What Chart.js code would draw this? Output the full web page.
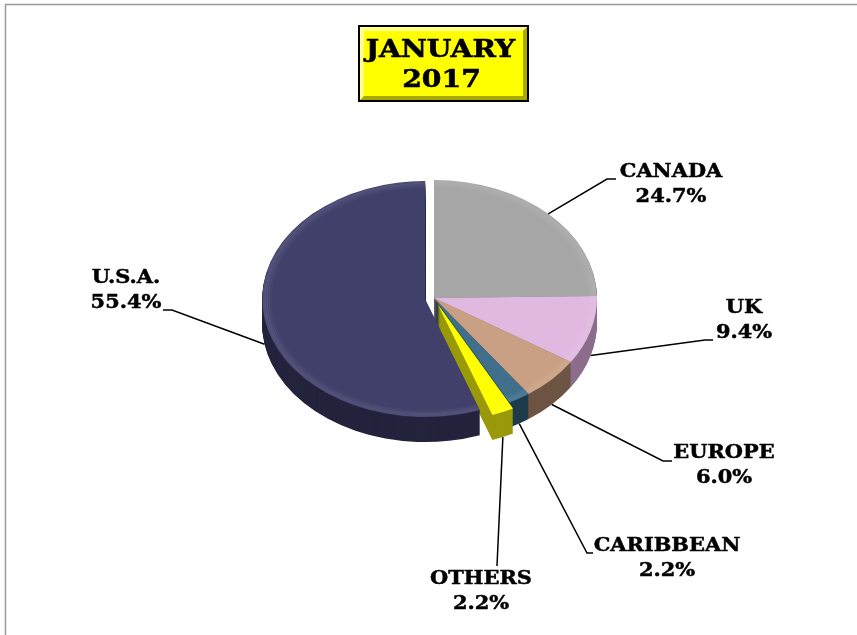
<!DOCTYPE html>
<html lang="en">

<head>
    <meta charset="UTF-8">
    <title>January 2017</title>
    <script src="https://cdn.jsdelivr.net/npm/chart.js"></script>

    <style>
        body {
            margin: 0;
            background-color: #FFFFFF;
        }

        .div-grafico {
            position: relative;
            width: 857px;
            height: 635px;
        }
    </style>
</head>

<body>
    <div class="div-grafico">
        <canvas id="graficoPizza"></canvas>
    </div>

<script>
    // data
    var regioes = ['CANADA', 'UK', 'EUROPE', 'CARIBBEAN', 'OTHERS', 'U.S.A.'];
    var percentuais = [24.7, 9.4, 6.0, 2.2, 2.2, 55.4];
    var tituloLinhas = ['JANUARY', '2017'];

    // styles
    var corTopo = ['#A6A6A6', '#E0B9E0', '#C9A084', '#3F6F8B', '#FFFF00', '#41406B'];
    var corLado = ['#6B6B6B', '#8C6E8C', '#6E5443', '#1E3C4B', '#99990A', '#24233D'];
    var destaque = [0, 0, 0, 0, 9, 9];   // px que a fatia sai do centro

    var inclinacao = 0.724;  // altura / largura da elipse
    var profundidade = 25;   // espessura da pizza em px

    // onde ficam os rotulos: centro do texto, cotovelo da linha, rabicho horizontal
    var posRotulos = [
        { x: 671, y: 172, cx: 607, cy: 179, rabo: 9 },
        { x: 744, y: 308, cx: 705, cy: 340, rabo: 8 },
        { x: 724, y: 453, cx: 663, cy: 461, rabo: 9 },
        { x: 667, y: 546, cx: 587, cy: 553, rabo: 6 },
        { x: 481, y: 579, cx: 497, cy: 566, rabo: 0 },
        { x: 126, y: 278, cx: 172, cy: 310, rabo: -9 }
    ];

    var fonteRotulo = 'bold 19px "DejaVu Serif"';
    var fonteTitulo = 'bold 25px "DejaVu Serif"';

    function texto(ctx, t, x, y, esticar, grossura) {
        ctx.save();
        ctx.translate(x, y);
        ctx.scale(esticar, 1);
        ctx.lineWidth = grossura;
        ctx.strokeText(t, 0, 0);
        ctx.fillText(t, 0, 0);
        ctx.restore();
    }

    var pizza3d = {
        id: 'pizza3d',
        beforeDraw(chart) {
            var ctx = chart.ctx;
            ctx.save();
            // moldura
            ctx.strokeStyle = '#9A9A9A';
            ctx.lineWidth = 1.5;
            ctx.beginPath();
            ctx.moveTo(5.5, chart.height);
            ctx.lineTo(5.5, 4.5);
            ctx.lineTo(chart.width, 4.5);
            ctx.stroke();

            // caixa do titulo
            var bx = 358, by = 25, bw = 171, bh = 77;
            ctx.fillStyle = '#000000';
            ctx.fillRect(bx, by, bw, bh);
            ctx.fillStyle = '#A8A800';
            ctx.fillRect(bx + 2, by + 2, bw - 4, bh - 4);
            ctx.fillStyle = '#FFFF8C';
            ctx.beginPath();
            ctx.moveTo(bx + 2, by + 2);
            ctx.lineTo(bx + bw - 2, by + 2);
            ctx.lineTo(bx + bw - 6, by + 6);
            ctx.lineTo(bx + 6, by + 6);
            ctx.lineTo(bx + 6, by + bh - 6);
            ctx.lineTo(bx + 2, by + bh - 2);
            ctx.closePath();
            ctx.fill();
            ctx.fillStyle = '#FFFF00';
            ctx.fillRect(bx + 6, by + 6, bw - 12, bh - 12);

            ctx.fillStyle = '#000000';
            ctx.strokeStyle = '#000000';
            ctx.font = fonteTitulo;
            ctx.textAlign = 'center';
            ctx.textBaseline = 'middle';
            texto(ctx, tituloLinhas[0], bx + bw / 2 - 3, 50, 1.13, 0.6);
            texto(ctx, tituloLinhas[1], bx + bw / 2 - 2, 80, 1.13, 0.6);
            ctx.restore();
        },
        beforeDatasetsDraw(chart) {
            var ctx = chart.ctx;
            var arcs = chart.getDatasetMeta(0).data;
            var cx = arcs[0].x, cy = arcs[0].y;
            ctx.save();
            ctx.translate(cx, cy);
            ctx.scale(1, inclinacao);
            ctx.translate(-cx, -cy);
            // k > 0: laterais (a fatia repetida para baixo, mais escura); k = 0: topo
            for (var k = profundidade; k >= 0; k--) {
                arcs.forEach(function (arc, i) {
                    var meio = (arc.startAngle + arc.endAngle) / 2;
                    var fatia = Object.create(arc);
                    fatia.options = Object.assign({}, arc.options, {
                        backgroundColor: k > 0 ? corLado[i] : corTopo[i],
                        borderWidth: 0,
                        offset: 0
                    });
                    ctx.save();
                    ctx.translate(Math.cos(meio) * destaque[i], Math.sin(meio) * destaque[i] + k / inclinacao);
                    fatia.draw(ctx);
                    if (k === 0) {
                        // brilho suave na borda do topo
                        ctx.beginPath();
                        ctx.moveTo(arc.x, arc.y);
                        ctx.arc(arc.x, arc.y, arc.outerRadius, arc.startAngle, arc.endAngle);
                        ctx.closePath();
                        ctx.clip();
                        for (var b = 0; b < 4; b++) {
                            ctx.beginPath();
                            ctx.arc(arc.x, arc.y, arc.outerRadius - 2 - b * 2, arc.startAngle, arc.endAngle);
                            ctx.strokeStyle = 'rgba(255,255,255,' + (0.07 - b * 0.015) + ')';
                            ctx.lineWidth = 3;
                            ctx.stroke();
                        }
                    }
                    ctx.restore();
                });
            }
            ctx.restore();
            return false;
        },
        afterDraw(chart) {
            var ctx = chart.ctx;
            var arcs = chart.getDatasetMeta(0).data;
            ctx.save();
            ctx.strokeStyle = '#000000';
            ctx.fillStyle = '#000000';
            ctx.font = fonteRotulo;
            ctx.textAlign = 'center';
            ctx.textBaseline = 'middle';
            arcs.forEach(function (arc, i) {
                var meio = (arc.startAngle + arc.endAngle) / 2;
                var ax = arc.x + Math.cos(meio) * (arc.outerRadius + destaque[i]);
                var ay = arc.y + Math.sin(meio) * (arc.outerRadius + destaque[i]) * inclinacao;
                if (Math.sin(meio) > 0) ay += profundidade;
                var p = posRotulos[i];
                ctx.lineWidth = 1.5;
                ctx.beginPath();
                ctx.moveTo(ax, ay);
                ctx.lineTo(p.cx, p.cy);
                if (p.rabo) ctx.lineTo(p.cx + p.rabo, p.cy);
                ctx.stroke();
                texto(ctx, regioes[i], p.x, p.y, 1.1, 0.5);
                texto(ctx, percentuais[i].toFixed(1) + '%', p.x, p.y + 25, 1.1, 0.5);
            });
            ctx.restore();
        }
    };

    var graficoPizza = new Chart(document.getElementById('graficoPizza').getContext('2d'), {
        type: 'pie',
        data: {
            labels: regioes,
            datasets: [{
                data: percentuais,
                backgroundColor: corTopo,
                borderWidth: 0,
                radius: 163
            }]
        },
        options: {
            responsive: true,
            maintainAspectRatio: false,
            animation: false,
            events: [],
            layout: {
                padding: { left: 21, right: 10, top: 10, bottom: 49 }
            },
            plugins: {
                legend: { display: false },
                tooltip: { enabled: false },
                title: { display: false }
            }
        },
        plugins: [pizza3d]
    });
</script>
</body>

</html>
